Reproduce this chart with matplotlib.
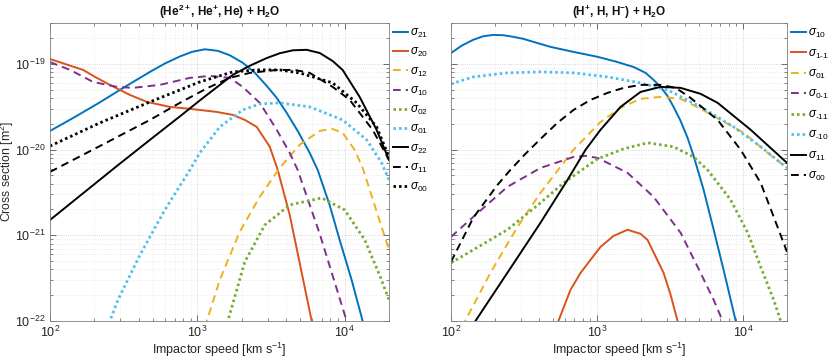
import numpy as np
import matplotlib
matplotlib.use("Agg")
import matplotlib.pyplot as plt
from matplotlib.ticker import LogLocator, NullFormatter

plt.rcParams['font.family'] = ['Liberation Sans', 'DejaVu Sans']
plt.rcParams['mathtext.fontset'] = 'custom'
plt.rcParams['mathtext.rm'] = 'Liberation Sans'
plt.rcParams['mathtext.it'] = 'Liberation Sans:italic'
plt.rcParams['mathtext.bf'] = 'Liberation Sans:bold'

# ---------------- Left panel: (He2+, He+, He) + H2O ----------------
L21_v = [100, 148, 218, 322, 477, 602, 761, 918, 1125, 1378, 1662, 2034, 2454, 2959, 3461, 4044, 4800, 5793, 6561, 7907, 9249, 11150, 13250, 14790]
L21_s = [1.65e-20, 2.41e-20, 3.56e-20, 5.39e-20, 8.07e-20, 1.01e-19, 1.22e-19, 1.38e-19, 1.48e-19, 1.42e-19, 1.26e-19, 1.03e-19, 7.9e-20, 5.53e-20, 4.01e-20, 2.68e-20, 1.65e-20, 9.15e-21, 5.79e-21, 2.26e-21, 8.83e-22, 3.02e-22, 1.0e-22, 5.2e-23]

L20_v = [100, 126, 168, 202, 255, 348, 455, 651, 890, 1356, 1741, 2100, 2530, 3103, 3514, 4238, 5975, 6561]
L20_s = [1.14e-19, 1.0e-19, 8.5e-20, 7.05e-20, 5.69e-20, 4.35e-20, 3.6e-20, 3.15e-20, 2.99e-20, 2.75e-20, 2.54e-20, 2.22e-20, 1.84e-20, 1.08e-20, 5.79e-21, 1.73e-21, 1.0e-22, 4.6e-23]

L12_v = [1100, 1160, 1421, 1941, 2653, 3624, 4953, 6771, 8170, 9687, 11690, 13250, 15960, 20000]
L12_s = [6e-23, 1.0e-22, 3.02e-22, 1.1e-21, 2.81e-21, 6.11e-21, 1.14e-20, 1.65e-20, 1.75e-20, 1.57e-20, 9.93e-21, 6.11e-21, 2.26e-21, 6.76e-22]

L10_v = [100, 137, 196, 285, 365, 557, 890, 1216, 1662, 2034, 2653, 3461, 4238, 4800, 6771, 10320, 11690]
L10_s = [1.05e-19, 8.5e-20, 6.16e-20, 5.39e-20, 5.25e-20, 5.69e-20, 6.87e-20, 7.24e-20, 6.87e-20, 5.39e-20, 3.51e-20, 1.70e-20, 9.15e-21, 5.79e-21, 1.04e-21, 1.0e-22, 4.6e-23]

L02_v = [1550, 1611, 2100, 2871, 4238, 6986, 10000, 13690, 17260, 20000]
L02_s = [6e-23, 1.0e-22, 4.9e-22, 1.32e-21, 2.26e-21, 2.73e-21, 1.98e-21, 8.83e-22, 3.45e-22, 1.76e-22]

L01_v = [240, 255, 289, 408, 602, 890, 1040, 1421, 2034, 2653, 3624, 5793, 9687, 14100, 17820, 20000]
L01_s = [6e-23, 1.0e-22, 1.76e-22, 5.9e-22, 1.98e-21, 5.79e-21, 9.15e-21, 1.84e-20, 2.9e-20, 3.41e-20, 3.51e-20, 3.15e-20, 2.22e-20, 1.30e-20, 7.0e-21, 4.43e-21]

L22_v = [100, 285, 477, 798, 1040, 1741, 2269, 2959, 3624, 4439, 5520, 6771, 8296, 9687, 12640, 16480, 20000]
L22_s = [1.51e-21, 6.45e-21, 1.30e-20, 2.6e-20, 3.75e-20, 7.45e-20, 9.5e-20, 1.17e-19, 1.33e-19, 1.44e-19, 1.46e-19, 1.34e-19, 1.08e-19, 8.5e-20, 4.12e-20, 1.70e-20, 7.58e-21]

L11_v = [100, 218, 477, 761, 1178, 1662, 2269, 3461, 4581, 5793, 8296, 10820, 15490, 20000]
L11_s = [5.49e-21, 1.1e-20, 2.22e-20, 3.51e-20, 5.25e-20, 6.87e-20, 7.85e-20, 8.5e-20, 8.5e-20, 7.85e-20, 5.39e-20, 3.8e-20, 1.70e-20, 7.58e-21]

L00_v = [100, 218, 477, 1040, 1741, 2530, 3624, 4953, 8296, 12060, 16480, 20000]
L00_s = [1.1e-20, 2.05e-20, 3.6e-20, 6.16e-20, 8.07e-20, 8.5e-20, 8.5e-20, 7.85e-20, 6.0e-20, 3.51e-20, 1.84e-20, 8.2e-21]

# ---------------- Right panel: (H+, H, H-) + H2O ----------------
R10_v = [100, 119, 142, 166, 195, 228, 267, 313, 378, 480, 690, 1008, 1382, 1780, 2153, 2439, 2723, 3041, 3343, 3736, 4170, 4587, 5370, 6295, 7500, 8910, 10000]
R10_s = [1.34e-19, 1.64e-19, 1.91e-19, 2.1e-19, 2.18e-19, 2.16e-19, 2.07e-19, 1.96e-19, 1.78e-19, 1.58e-19, 1.38e-19, 1.21e-19, 1.05e-19, 9.2e-20, 7.85e-20, 6.5e-20, 5.39e-20, 4.23e-20, 3.15e-20, 2.16e-20, 1.37e-20, 8.44e-21, 3.39e-21, 1.16e-21, 3.45e-22, 1.0e-22, 4.6e-23]

R1m1_v = [544, 658, 771, 1056, 1298, 1619, 1987, 2218, 2856, 3192, 3562, 3736]
R1m1_s = [1.0e-22, 2.31e-22, 3.64e-22, 7.32e-22, 9.84e-22, 1.16e-21, 1.04e-21, 8.83e-22, 3.64e-22, 2.02e-22, 1.0e-22, 6.9e-23]

R01_v = [118, 125, 186, 285, 410, 690, 1056, 1449, 1987, 2723, 3736, 5126, 7029, 10110, 14760, 20000]
R01_s = [6e-23, 1.0e-22, 3.64e-22, 1.25e-21, 3.13e-21, 9.93e-21, 2.1e-20, 3.07e-20, 3.91e-20, 4.12e-20, 3.91e-20, 2.99e-20, 2.22e-20, 1.57e-20, 9.15e-21, 6.11e-21]

R0m1_v = [100, 142, 243, 410, 690, 834, 1008, 1619, 2439, 3736, 4887, 6295, 7250, 7943]
R0m1_s = [9.58e-22, 1.64e-21, 3.67e-21, 6.11e-21, 8.2e-21, 8.44e-21, 8.0e-21, 5.35e-21, 2.81e-21, 1.07e-21, 4.28e-22, 1.76e-22, 1.0e-22, 5.9e-23]

Rm11_v = [100, 142, 243, 410, 589, 1008, 1520, 2218, 3343, 4587, 5723, 8225, 10770, 13210, 16220, 18110, 19400]
Rm11_s = [4.77e-22, 6.76e-22, 1.16e-21, 2.39e-21, 4.08e-21, 7.79e-21, 1.02e-20, 1.2e-20, 1.08e-20, 8.2e-21, 5.79e-21, 2.59e-21, 1.07e-21, 4.28e-22, 1.76e-22, 1.0e-22, 6.9e-23]

Rm10_v = [100, 142, 243, 410, 690, 1180, 1987, 3041, 5126, 8623, 13210, 20000]
Rm10_s = [5.84e-20, 7.05e-20, 7.85e-20, 8.07e-20, 7.85e-20, 7.05e-20, 6.0e-20, 4.97e-20, 3.15e-20, 1.84e-20, 1.08e-20, 6.11e-21]

R11_v = [135, 147, 243, 410, 628, 834, 1056, 1449, 1987, 2723, 3736, 5126, 6700, 11290, 20000]
R11_s = [6.9e-23, 1.0e-22, 3.64e-22, 1.40e-21, 4.43e-21, 9.93e-21, 1.70e-20, 3.15e-20, 4.71e-20, 5.39e-20, 5.25e-20, 4.47e-20, 3.51e-20, 1.70e-20, 7.0e-21]

R00_v = [100, 142, 208, 255, 323, 410, 535, 690, 902, 1180, 1520, 1987, 2723, 3460, 4374, 6700, 9640, 13210, 16220, 20000]
R00_s = [4.9e-22, 1.6e-21, 3.87e-21, 5.79e-21, 8.9e-21, 1.33e-20, 2.05e-20, 2.9e-20, 3.8e-20, 4.59e-20, 5.25e-20, 5.69e-20, 5.69e-20, 5.25e-20, 4.01e-20, 2.22e-20, 9.93e-21, 4.08e-21, 1.64e-21, 6.4e-22]

C_BLUE = '#0072BD'
C_ORANGE = '#D95319'
C_YELLOW = '#EDB120'
C_PURPLE = '#7E2F8E'
C_GREEN = '#77AC30'
C_LBLUE = '#4DBEEE'
C_BLACK = '#000000'

SOLID = '-'
DASH = (0, (4.0, 2.6))
DOT = (0, (0.9, 1.1))

left_series = [
    (L21_v, L21_s, C_BLUE, SOLID, r'$\sigma_{21}$'),
    (L20_v, L20_s, C_ORANGE, SOLID, r'$\sigma_{20}$'),
    (L12_v, L12_s, C_YELLOW, DASH, r'$\sigma_{12}$'),
    (L10_v, L10_s, C_PURPLE, DASH, r'$\sigma_{10}$'),
    (L02_v, L02_s, C_GREEN, DOT, r'$\sigma_{02}$'),
    (L01_v, L01_s, C_LBLUE, DOT, r'$\sigma_{01}$'),
    (L22_v, L22_s, C_BLACK, SOLID, r'$\sigma_{22}$'),
    (L11_v, L11_s, C_BLACK, DASH, r'$\sigma_{11}$'),
    (L00_v, L00_s, C_BLACK, DOT, r'$\sigma_{00}$'),
]
right_series = [
    (R10_v, R10_s, C_BLUE, SOLID, r'$\sigma_{10}$'),
    (R1m1_v, R1m1_s, C_ORANGE, SOLID, r'$\sigma_{1\text{-}1}$'),
    (R01_v, R01_s, C_YELLOW, DASH, r'$\sigma_{01}$'),
    (R0m1_v, R0m1_s, C_PURPLE, DASH, r'$\sigma_{0\text{-}1}$'),
    (Rm11_v, Rm11_s, C_GREEN, DOT, r'$\sigma_{\text{-}11}$'),
    (Rm10_v, Rm10_s, C_LBLUE, DOT, r'$\sigma_{\text{-}10}$'),
    (R11_v, R11_s, C_BLACK, SOLID, r'$\sigma_{11}$'),
    (R00_v, R00_s, C_BLACK, DASH, r'$\sigma_{00}$'),
]

fig = plt.figure(figsize=(8.3, 3.57), dpi=100)
axL = fig.add_axes([50/830, 36/357, 339/830, 298/357])
axR = fig.add_axes([451/830, 36/357, 336/830, 298/357])

def style(ax, series, title, spacing, ylabels=True):
    for v, s, c, ls, lab in series:
        lw = 2.0 if ls == DOT else 1.4
        ax.plot(v, s, color=c, ls=ls, lw=lw, label=lab)
    ax.set_xscale('log')
    ax.set_yscale('log')
    ax.set_xlim(100, 20000)
    ax.set_ylim(1e-22, 3e-19)
    ax.xaxis.set_major_locator(LogLocator(base=10, numticks=10))
    ax.yaxis.set_major_locator(LogLocator(base=10, numticks=10))
    ax.xaxis.set_minor_locator(LogLocator(base=10, subs=np.arange(2, 10), numticks=20))
    ax.yaxis.set_minor_locator(LogLocator(base=10, subs=np.arange(2, 10), numticks=20))
    ax.xaxis.set_minor_formatter(NullFormatter())
    ax.yaxis.set_minor_formatter(NullFormatter())
    ax.grid(True, which='major', ls=':', color='#c8c8c8', lw=0.6)
    ax.grid(True, which='minor', ls=':', color='#e2e2e2', lw=0.5)
    ax.set_axisbelow(True)
    ax.tick_params(which='both', direction='in', top=True, right=True,
                   color='#555555', labelsize=9, labelcolor='#262626', pad=3)
    ax.tick_params(which='major', length=4, width=0.6)
    ax.tick_params(which='minor', length=2, width=0.5)
    for sp in ax.spines.values():
        sp.set_color('#808080')
        sp.set_linewidth(0.6)
    if not ylabels:
        ax.tick_params(labelleft=False)
    ax.set_title(title, fontsize=8.5, fontweight='bold', pad=5, color='#111111')
    ax.set_xlabel(r'Impactor speed [km s$^{-1}$]', fontsize=9, color='#262626', labelpad=0)
    leg = ax.legend(loc='upper left', bbox_to_anchor=(1.0, 1.0), frameon=False,
                    fontsize=8.5, handlelength=1.25, handletextpad=0.15,
                    labelspacing=spacing, borderaxespad=0.15, borderpad=0.2)
    return leg

style(axL, left_series, r'(He$^{\mathbf{2+}}$, He$^{\mathbf{+}}$, He) + H$_{\mathbf{2}}$O', 0.52)
style(axR, right_series, r'(H$^{\mathbf{+}}$, H, H$^{\mathbf{-}}$) + H$_{\mathbf{2}}$O', 0.62, ylabels=False)
axL.set_ylabel(r'Cross section [m$^2$]', fontsize=8.8, color='#262626')
axL.yaxis.set_label_coords(-0.1, 0.5)

fig.savefig('out.png', dpi=100)
